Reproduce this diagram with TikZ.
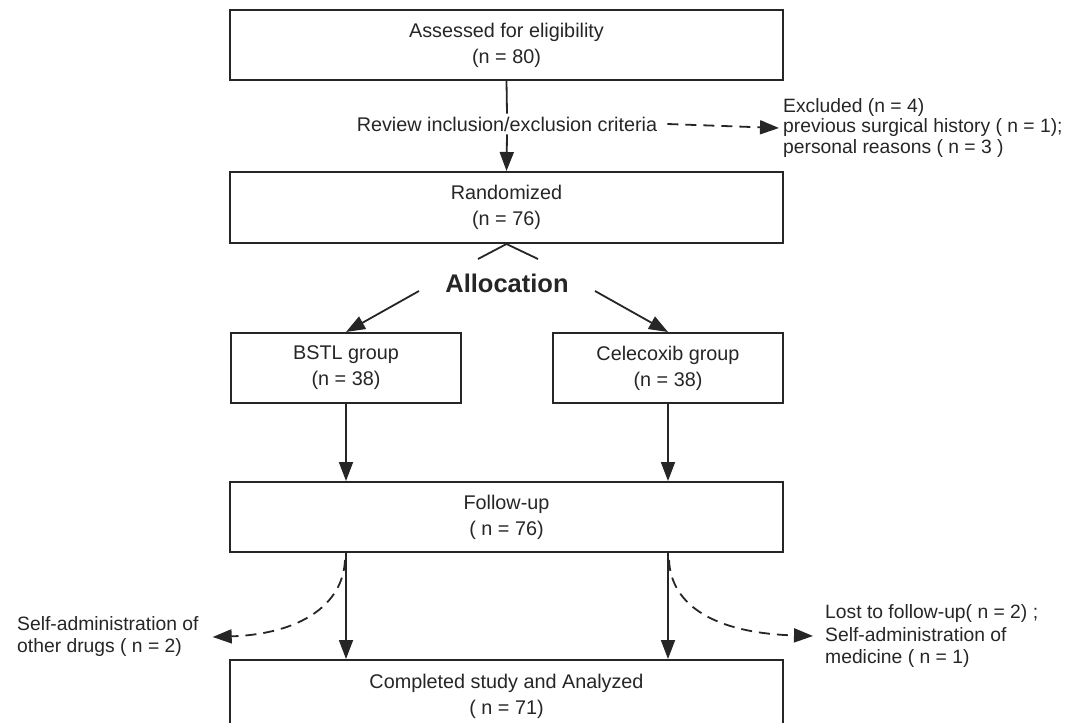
\documentclass[tikz,border=0pt]{standalone}
\usepackage{fontspec}
\setmainfont{Liberation Sans}
\usetikzlibrary{arrows.meta}
\usetikzlibrary{calc}

\tikzset{
  box/.style={draw=black!85, line width=2pt, minimum width=553pt, minimum height=70pt, align=center, text=black!85, inner sep=0pt},
  note/.style={align=left, text=black!85, inner ysep=0pt},
  conn/.style={draw=black!85, line width=1.8pt, ->},
  dashconn/.style={conn, dash pattern=on 11pt off 7pt},
}

\begin{document}
\begin{tikzpicture}[x=1pt, y=-1pt, >={Triangle[length=19pt,width=14pt]}, font=\fontsize{19.8}{26}\selectfont]
\useasboundingbox (0,0) rectangle (1069,723);
\fill[white] (0,0) rectangle (1069,723);

% boxes
\node[box] (assess) at (506.5,45) {Assessed for eligibility\\(n = 80)};
\node[inner xsep=10pt, inner ysep=3pt, text=black!85] (review) at (507,124) {Review inclusion/exclusion criteria};
\node[box, minimum height=71pt] (rand) at (506.5,207.5) {Randomized\\(n = 76)};
\node[font=\fontsize{25.5}{30}\selectfont\bfseries, text=black!85] (alloc) at (507,283) {Allocation};
\node[box, minimum width=230pt] (bstl) at (346,368) {BSTL group\\(n = 38)};
\node[box, minimum width=230pt] (cele) at (668,368) {Celecoxib group\\(n = 38)};
\node[box] (fu) at (506.5,517) {Follow-up\\( n = 76)};
\node[box, minimum height=72pt] (done) at (506.5,696) {Completed study and Analyzed\\( n = 71)};

% side notes
\node[note, anchor=west, inner xsep=4pt, font=\fontsize{19.3}{20.5}\selectfont] (excl) at (779,128)
  {Excluded (n = 4)\\previous surgical history ( n = 1);\\personal reasons ( n = 3 )};
\node[note, anchor=west, inner xsep=14pt, font=\fontsize{19.3}{22}\selectfont] (selfl) at (3,637)
  {Self-administration of\\other drugs ( n = 2)};
\node[note, anchor=west, inner xsep=12pt, font=\fontsize{19.3}{22.5}\selectfont] (lost) at (813,636)
  {Lost to follow-up( n = 2) ;\\Self-administration of\\medicine ( n = 1)};

\coordinate (vl) at (478,259);
\coordinate (vr) at (538,259);
\coordinate (al) at (419,291);
\coordinate (ar) at (595,291);

% connectors
\draw[draw=black!85, line width=1.8pt] (assess.south) -- (review.north);
\draw[conn] (review.south) -- (rand.north);
\draw[dashconn] (review.east) -- (excl.west);
\draw[draw=black!85, line width=1.8pt] (vl) -- (rand.south) -- (vr);
\draw[conn] (al) -- (bstl.north);
\draw[conn] (ar) -- (cele.north);
\draw[conn] (bstl.south) -- (bstl.south |- fu.north);
\draw[conn] (cele.south) -- (cele.south |- fu.north);
\draw[conn] (fu.south -| bstl.south) -- (done.north -| bstl.south);
\draw[conn] (fu.south -| cele.south) -- (done.north -| cele.south);
\draw[dashconn] ($(fu.south -| bstl.south)+(-1,7)$) .. controls (343,605) and (300,634) .. (selfl.east);
\draw[dashconn] ($(fu.south -| cele.south)+(1,7)$) .. controls (671,605) and (714,633) .. (lost.west);
\end{tikzpicture}
\end{document}
